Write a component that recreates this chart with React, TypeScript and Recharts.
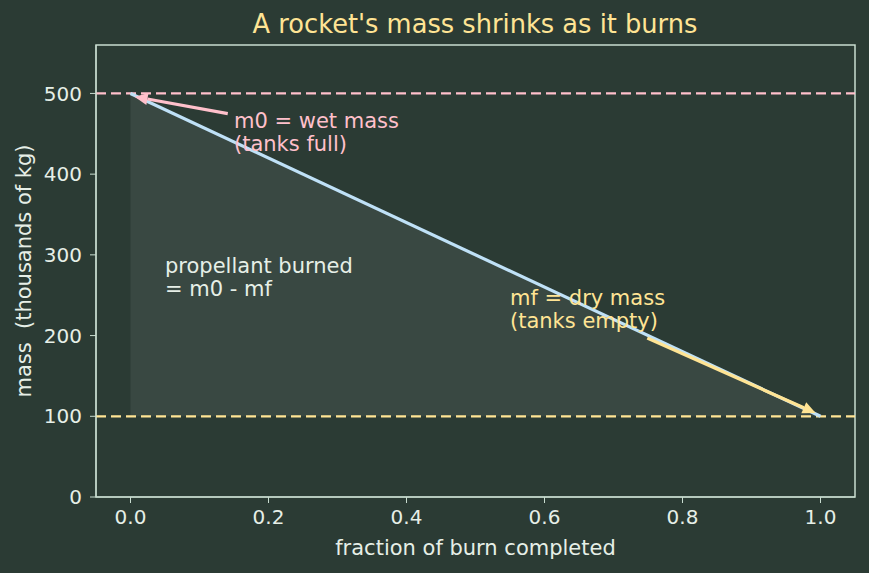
import React from 'react';
import {
  ComposedChart, Line, Area, XAxis, YAxis, ReferenceLine, ReferenceDot, ReferenceArea,
} from 'recharts';

const BG = '#2b3b34';
const FG = '#e6efe7';
const SPINE = '#c9ddd0';
const LINE = '#bfe1f7';
const PINK = '#ffc0cb';
const YELLOW = '#ffe494';
const FONT = 'DejaVu Sans, sans-serif';

// burn progress vs mass (thousands of kg)
const burnFraction = [0, 1];
const massValues = [500, 100];
const wetMass = 500;
const dryMass = 100;
const xTicks = [0, 0.2, 0.4, 0.6, 0.8, 1.0];
const yTicks = [0, 100, 200, 300, 400, 500];

const data = burnFraction.map((x, i) => ({ x, m: massValues[i] }));

// arrow annotations: tail (text side) -> tip
const wetArrow = [{ x: 0.141, y: 475 }, { x: 0.006, y: 496 }];
const dryArrow = [{ x: 0.749, y: 197 }, { x: 0.993, y: 104 }];

function arrowShape(color: string) {
  return (p: any) => {
    const { x1, y1, x2, y2 } = p;
    const ang = Math.atan2(y2 - y1, x2 - x1);
    const len = 13;
    const hw = 6;
    const bx = x2 - len * Math.cos(ang);
    const by = y2 - len * Math.sin(ang);
    const px = -Math.sin(ang) * hw;
    const py = Math.cos(ang) * hw;
    return (
      <g>
        <line x1={x1} y1={y1} x2={bx} y2={by} stroke={color} strokeWidth={3.2} />
        <polygon points={`${x2},${y2} ${bx + px},${by + py} ${bx - px},${by - py}`} fill={color} />
      </g>
    );
  };
}

function textShape(lines: string[], color: string) {
  return (p: any) => (
    <text x={p.cx} y={p.cy} fill={color} fontSize={21} fontFamily={FONT}>
      {lines.map((l, i) => (
        <tspan key={i} x={p.cx} dy={i === 0 ? 0 : 23}>{l}</tspan>
      ))}
    </text>
  );
}

export default function App() {
  return (
    <div style={{ position: 'absolute', left: 0, top: 0, width: 869, height: 573, background: BG }}>
      <ComposedChart
        width={869}
        height={573}
        data={data}
        margin={{ top: 45, right: 14, bottom: 0, left: 0 }}
        style={{ fontFamily: FONT }}
      >
        <text x={475} y={33} textAnchor="middle" fill={YELLOW} fontSize={25.7} fontFamily={FONT}>
          A rocket's mass shrinks as it burns
        </text>
        <XAxis
          dataKey="x"
          type="number"
          domain={[-0.05, 1.05]}
          ticks={xTicks}
          tickFormatter={(v: number) => v.toFixed(1)}
          height={76}
          tickSize={6}
          tickMargin={7}
          stroke={SPINE}
          tick={{ fill: FG, fontSize: 20 }}
          label={{ value: 'fraction of burn completed', position: 'insideBottom', offset: 18, fill: FG, fontSize: 21 }}
          allowDataOverflow
        />
        <YAxis
          type="number"
          domain={[0, 560]}
          ticks={yTicks}
          width={96}
          tickSize={6}
          tickMargin={8}
          stroke={SPINE}
          tick={{ fill: FG, fontSize: 20 }}
          label={{ value: 'mass \u00a0(thousands of kg)', angle: -90, position: 'insideLeft', offset: 24, fill: FG, fontSize: 21, style: { textAnchor: 'middle' } }}
          allowDataOverflow
        />
        <ReferenceArea x1={-0.05} x2={1.05} y1={0} y2={560} fill="none" stroke={SPINE} strokeWidth={1.5} ifOverflow="visible" />
        <Area
          dataKey="m"
          type="linear"
          baseValue={dryMass}
          stroke="rgba(255,255,255,0.08)"
          strokeWidth={1}
          fill="#ffffff"
          fillOpacity={0.07}
          isAnimationActive={false}
        />
        <ReferenceLine y={wetMass} stroke={PINK} strokeWidth={2.2} strokeDasharray="10 5" />
        <ReferenceLine y={dryMass} stroke={YELLOW} strokeWidth={2.2} strokeDasharray="10 5" />
        <Line dataKey="m" type="linear" stroke={LINE} strokeWidth={3.2} dot={false} isAnimationActive={false} />
        <ReferenceLine segment={wetArrow} shape={arrowShape(PINK)} ifOverflow="visible" />
        <ReferenceLine segment={dryArrow} shape={arrowShape(YELLOW)} ifOverflow="visible" />
        <ReferenceDot x={0.15} y={457} r={0} shape={textShape(['m0 = wet mass', '(tanks full)'], PINK)} />
        <ReferenceDot x={0.55} y={238} r={0} shape={textShape(['mf = dry mass', '(tanks empty)'], YELLOW)} />
        <ReferenceDot x={0.05} y={277} r={0} shape={textShape(['propellant burned', '= m0 - mf'], FG)} />
      </ComposedChart>
    </div>
  );
}
